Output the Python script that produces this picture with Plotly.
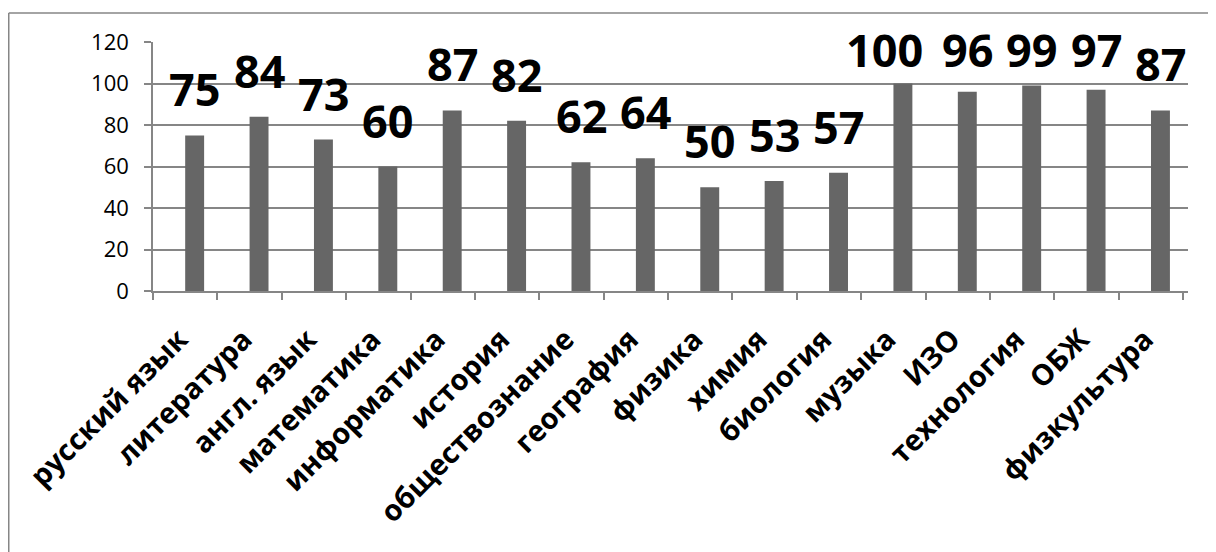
import plotly.graph_objects as go

subjects = ["русский язык", "литература", "англ. язык", "математика", "информатика",
            "история", "обществознание", "география", "физика", "химия", "биология",
            "музыка", "ИЗО", "технология", "ОБЖ", "физкультура"]
values = [75, 84, 73, 60, 87, 82, 62, 64, 50, 53, 57, 100, 96, 99, 97, 87]
y_ticks = [0, 20, 40, 60, 80, 100, 120]

# label placement tweaks (pixels), kept apart from the data
label_xshift = {"музыка": -18}
LABEL_CAP = 94.1  # labels pushed down to stay inside the chart area (Excel behaviour)

BAR = "#666666"
GRID = "#868686"
FONT = "Open Sans"
BAR_W = 0.294  # bar width in category units; bars start at the category centre

# page body has an 8px margin; the figure is sized so the plot sits where the reference has it
W, H = 1208, 544
ml, mr, mt, mb = 145, 28, 34, 261
pw, ph = W - ml - mr, H - mt - mb
bar_px = BAR_W * pw / len(subjects)

fig = go.Figure()
fig.add_trace(go.Bar(
    x=subjects, y=values,
    width=BAR_W, offset=0,
    marker=dict(color=BAR, line=dict(width=0)),
    hoverinfo="x+y",
))

annotations = []
for s, v in zip(subjects, values):
    annotations.append(dict(
        x=s, y=min(v, LABEL_CAP), xref="x", yref="y",
        text=f"<b>{v}</b>", showarrow=False, yanchor="bottom", yshift=14,
        xshift=bar_px / 2 + label_xshift.get(s, 0),
        font=dict(family=FONT, size=45, color="#000000"),
    ))

bx = (0.75 - ml) / pw
by = (H - mb - 5) / ph
shapes = [
    dict(type="line", xref="paper", yref="paper", x0=bx, x1=1 + mr / pw, y0=by, y1=by,
         line=dict(color=GRID, width=1.5)),
    dict(type="line", xref="paper", yref="paper", x0=bx, x1=bx, y0=by, y1=-mb / ph,
         line=dict(color=GRID, width=1.5)),
]

fig.update_layout(
    width=W, height=H,
    margin=dict(l=ml, r=mr, t=mt, b=mb, autoexpand=False),
    paper_bgcolor="white", plot_bgcolor="white",
    showlegend=False,
    font=dict(family=FONT, color="#000000"),
    annotations=annotations,
    shapes=shapes,
    xaxis=dict(
        type="category",
        tickangle=-45,
        tickfont=dict(family=FONT, size=29, color="#000000", weight="bold"),
        ticks="outside", ticklen=7, tickcolor=GRID, tickwidth=1.5,
        tickson="boundaries",
        ticklabelstandoff=18, ticklabelshift=-6,
        showline=True, linecolor=GRID, linewidth=1.5,
        showgrid=False, automargin=False,
    ),
    yaxis=dict(
        range=[0, 120],
        tickvals=y_ticks,
        tickfont=dict(family=FONT, size=22, color="#000000"),
        ticks="outside", ticklen=7, tickcolor=GRID, tickwidth=1.5,
        ticklabelstandoff=11,
        showline=True, linecolor=GRID, linewidth=1.5,
        showgrid=True, gridcolor=GRID, gridwidth=1.5,
        zeroline=False, automargin=False,
    ),
)

fig.write_html("out.html")
